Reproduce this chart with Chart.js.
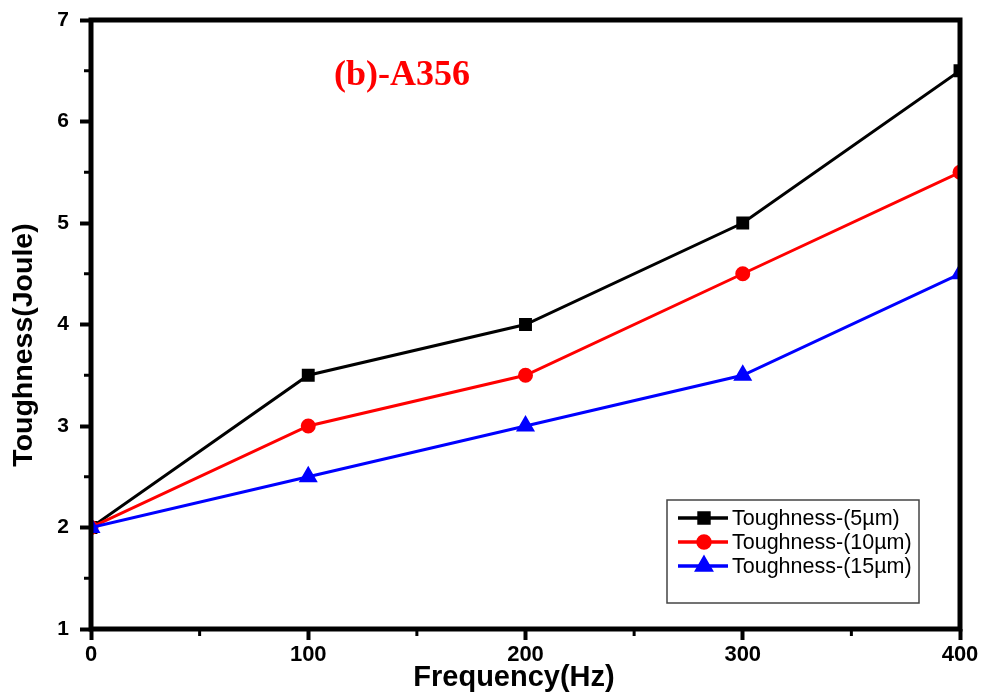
<!DOCTYPE html>
<html>
<head>
<meta charset="utf-8">
<script src="https://cdn.jsdelivr.net/npm/chart.js@4"></script>
<style>
  html, body { margin: 0; padding: 0; background: #fff; }
  #wrap { width: 985px; height: 697px; }
</style>
</head>
<body>
<div id="wrap"><canvas id="toughChart" width="985" height="697"></canvas></div>
<script>
var frequency = [0, 100, 200, 300, 400]
var tough5 = [2, 3.5, 4, 5, 6.5]
var tough10 = [2, 3, 3.5, 4.5, 5.5]
var tough15 = [2, 2.5, 3, 3.5, 4.5]
var seriesNames = ['Toughness-(5\u00b5m)', 'Toughness-(10\u00b5m)', 'Toughness-(15\u00b5m)']
var xTitle = 'Frequency(Hz)'
var yTitle = 'Toughness(Joule)'

var sans = '"Liberation Sans", Arial, sans-serif'

function toPoints(vals) {
    return vals.map(function (v, i) { return { x: frequency[i], y: v } })
}

function isMajorX(v) { return v % 100 === 0 }
function isMajorY(v) { return v % 1 === 0 }

// frame, minor ticks, axis titles, panel label and boxed legend
var extras = {
    id: 'extras',
    afterDatasetsDraw: function (chart) {
        var ctx = chart.ctx, a = chart.chartArea
        var xs = chart.scales.x, ys = chart.scales.y
        ctx.save()
        ctx.strokeStyle = '#000'
        ctx.lineWidth = 3
        xs.ticks.forEach(function (t) {
            if (isMajorX(t.value)) return
            var px = xs.getPixelForValue(t.value)
            ctx.beginPath(); ctx.moveTo(px, a.bottom); ctx.lineTo(px, a.bottom + 7); ctx.stroke()
        })
        ys.ticks.forEach(function (t) {
            if (isMajorY(t.value)) return
            var py = ys.getPixelForValue(t.value)
            ctx.beginPath(); ctx.moveTo(a.left, py); ctx.lineTo(a.left - 7, py); ctx.stroke()
        })

        ctx.lineWidth = 5
        ctx.strokeRect(a.left, a.top, a.right - a.left, a.bottom - a.top)

        // axis titles (sit a bit off-centre in the original)
        ctx.fillStyle = '#000'
        ctx.textAlign = 'center'
        ctx.textBaseline = 'middle'
        ctx.font = 'bold 29px ' + sans
        ctx.fillText(xTitle, 514, 678)
        ctx.save()
        ctx.translate(24, 345)
        ctx.rotate(-Math.PI / 2)
        ctx.font = 'bold 28.5px ' + sans
        ctx.fillText(yTitle, 0, 0)
        ctx.restore()

        ctx.textAlign = 'left'
        ctx.fillStyle = '#ff0000'
        ctx.font = 'bold 36px "Liberation Serif", serif'
        ctx.fillText('(b)-A356', a.left + 243, a.top + 56)

        // legend box
        var bx = 667, by = 500, bw = 252, bh = 103
        ctx.lineWidth = 1.5
        ctx.strokeStyle = '#444'
        ctx.strokeRect(bx, by, bw, bh)
        ctx.font = '21.5px ' + sans
        chart.data.datasets.forEach(function (ds, i) {
            var ly = by + 18 + i * 24
            ctx.strokeStyle = ds.borderColor
            ctx.lineWidth = 3.5
            ctx.beginPath()
            ctx.moveTo(bx + 11, ly)
            ctx.lineTo(bx + 61, ly)
            ctx.stroke()
            ctx.fillStyle = ds.borderColor
            Chart.helpers.drawPoint(ctx, { pointStyle: ds.pointStyle, radius: ds.pointRadius, borderWidth: 1 }, bx + 37, ly)
            ctx.fill()
            ctx.fillStyle = '#000'
            ctx.fillText(ds.label, bx + 65, ly + 1)
        })
        ctx.restore()
    }
}

var myChart = new Chart(document.getElementById('toughChart'), {
    type: 'line',
    data: {
        datasets: [{
            label: seriesNames[0],
            data: toPoints(tough5),
            borderColor: '#000000',
            backgroundColor: '#000000',
            pointStyle: 'rect',
            pointRadius: 7,
            borderWidth: 3,
            clip: 0,
            order: 3
        }, {
            label: seriesNames[1],
            data: toPoints(tough10),
            borderColor: '#ff0000',
            backgroundColor: '#ff0000',
            pointStyle: 'circle',
            pointRadius: 6,
            borderWidth: 3,
            clip: 0,
            order: 2
        }, {
            label: seriesNames[2],
            data: toPoints(tough15),
            borderColor: '#0000ff',
            backgroundColor: '#0000ff',
            pointStyle: 'triangle',
            pointRadius: 8,
            borderWidth: 3,
            clip: 0,
            order: 1
        }]
    },
    options: {
        responsive: false,
        animation: false,
        layout: { padding: { top: 20, right: 25, left: 0, bottom: 0 } },
        plugins: { legend: { display: false }, tooltip: { enabled: false } },
        elements: { line: { tension: 0 } },
        scales: {
            x: {
                type: 'linear',
                min: 0,
                max: 400,
                afterFit: function (s) { s.height = 68 },
                border: { display: false },
                grid: {
                    drawOnChartArea: false,
                    tickWidth: 4,
                    tickLength: 11,
                    tickColor: function (c) { return c.tick && isMajorX(c.tick.value) ? '#000' : 'rgba(0,0,0,0)' }
                },
                ticks: {
                    stepSize: 50,
                    color: '#000',
                    padding: 2,
                    maxRotation: 0,
                    font: { family: sans, size: 22, weight: 'bold' },
                    callback: function (v) { return isMajorX(v) ? v : '' }
                }
            },
            y: {
                min: 1,
                max: 7,
                afterFit: function (s) { s.width = 91; s.paddingTop = 0; s.paddingBottom = 0 },
                border: { display: false },
                grid: {
                    drawOnChartArea: false,
                    tickWidth: 4,
                    tickLength: 11,
                    tickColor: function (c) { return c.tick && isMajorY(c.tick.value) ? '#000' : 'rgba(0,0,0,0)' }
                },
                ticks: {
                    stepSize: 0.5,
                    color: '#000',
                    padding: 11,
                    font: { family: sans, size: 21, weight: 'bold' },
                    callback: function (v) { return isMajorY(v) ? v : '' }
                }
            }
        }
    },
    plugins: [extras]
})
</script>
</body>
</html>
